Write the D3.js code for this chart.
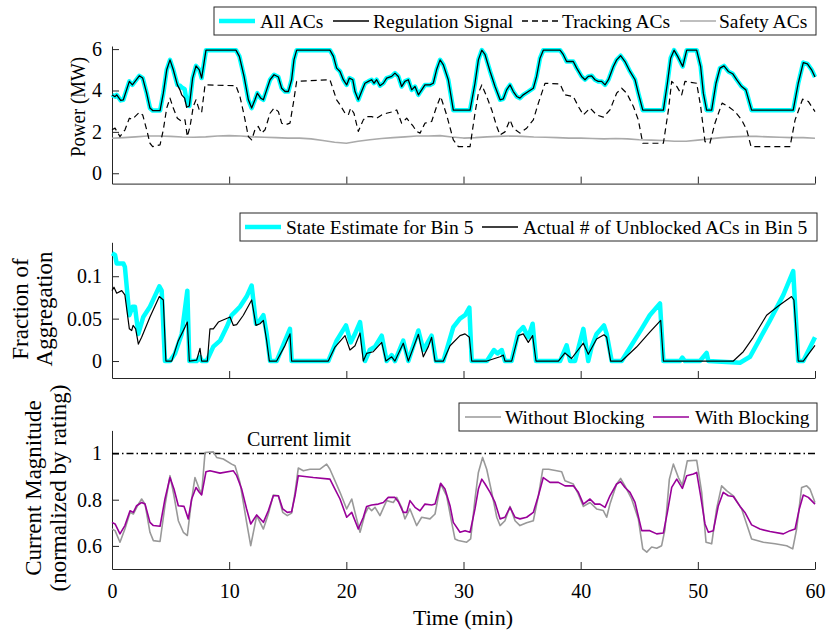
<!DOCTYPE html>
<html>
<head>
<meta charset="utf-8">
<script src="https://cdn.jsdelivr.net/npm/d3@7"></script>
<style>
  body { margin: 0; background: #fff; }
  text { font-family: "Liberation Serif", "Times New Roman", serif; fill: #000; }
  .axis path, .axis line { stroke: #262626; }
</style>
</head>
<body>
<script>
// ---- panel 1: power (MW) ----
var regT = [0, 0.26, 0.4, 0.74, 0.97, 1.48, 1.74, 1.97, 2.33, 2.62, 2.96, 3.24, 3.47, 4.1, 4.38, 4.67, 4.95, 5.23, 5.58, 5.8, 5.95, 6.2, 6.37, 6.6, 6.88, 7.17, 7.45, 7.65, 7.85, 8.02, 10.58, 10.87, 11.27, 11.64, 11.92, 12.2, 12.4, 12.69, 12.92, 13.2, 13.49, 13.83, 14.2, 14.48, 14.77, 15.05, 15.33, 15.53, 15.76, 18.6, 18.9, 19.17, 19.46, 19.74, 20.03, 20.26, 20.55, 20.74, 21.02, 21.3, 21.59, 21.88, 22.16, 22.36, 22.59, 22.87, 23.16, 23.44, 23.87, 24.15, 24.44, 24.72, 25.0, 25.29, 25.58, 25.86, 26.15, 26.43, 26.71, 27.14, 27.42, 27.7, 28.0, 28.28, 28.7, 29.0, 29.13, 30.56, 30.98, 31.27, 31.56, 31.84, 32.27, 32.69, 33.12, 33.4, 33.68, 33.97, 34.25, 34.54, 34.82, 35.1, 35.53, 35.96, 36.24, 36.53, 36.81, 38.24, 38.52, 38.8, 39.37, 39.66, 40.08, 40.37, 40.65, 40.94, 41.22, 41.5, 41.79, 42.08, 42.37, 42.79, 43.07, 43.41, 43.78, 44.21, 44.64, 44.92, 45.3, 47.06, 47.4, 47.68, 47.97, 48.28, 48.71, 49.05, 49.9, 50.24, 50.47, 50.75, 51.18, 51.55, 51.89, 52.23, 52.6, 52.97, 53.31, 53.74, 54.1, 54.59, 58.14, 58.57, 59.0, 59.35, 59.71, 60];
var regV = [3.79, 3.70, 3.79, 3.52, 3.55, 4.44, 4.27, 4.44, 4.71, 4.6, 3.87, 3.15, 3.03, 3.03, 3.87, 5.0, 5.48, 5.0, 4.27, 4.03, 3.79, 3.63, 3.19, 3.25, 4.6, 5.19, 5.0, 4.6, 5.32, 5.95, 5.95, 5.65, 4.68, 3.55, 3.15, 3.55, 3.87, 3.63, 3.55, 4.03, 4.52, 4.76, 4.65, 4.11, 3.95, 3.95, 4.52, 5.48, 5.95, 5.95, 5.65, 5.08, 4.92, 4.52, 4.27, 4.6, 4.52, 3.95, 3.55, 3.95, 4.35, 4.44, 4.52, 4.35, 4.52, 4.23, 4.35, 4.6, 4.68, 4.84, 4.68, 4.19, 4.44, 4.52, 4.03, 4.19, 3.79, 4.03, 4.27, 4.27, 4.35, 5.0, 5.48, 5.24, 4.52, 3.5, 3.05, 3.05, 4.35, 5.48, 5.95, 5.73, 4.92, 4.19, 3.55, 3.6, 4.03, 4.27, 3.95, 3.71, 3.63, 3.79, 3.95, 4.11, 4.68, 5.56, 5.95, 5.95, 5.73, 5.4, 5.4, 5.08, 4.68, 4.52, 4.68, 4.71, 4.52, 4.44, 4.44, 4.27, 4.52, 5.16, 5.48, 5.68, 5.4, 4.92, 4.52, 3.87, 3.05, 3.05, 4.35, 5.56, 5.95, 5.65, 5.16, 5.95, 5.95, 5.16, 3.87, 3.05, 3.05, 4.35, 5.08, 5.19, 4.92, 4.81, 4.52, 4.19, 4.03, 3.05, 3.05, 4.35, 5.35, 5.29, 5.0, 4.65];
var allV = [3.79, 3.70, 3.79, 3.52, 3.55, 4.44, 4.27, 4.44, 4.71, 4.6, 3.87, 3.15, 3.03, 3.03, 3.87, 5.0, 5.48, 5.0, 4.27, 4.23, 4.15, 4.06, 3.5, 3.25, 4.6, 5.19, 5.0, 4.6, 5.32, 5.95, 5.95, 5.65, 4.68, 3.55, 3.15, 3.55, 3.87, 3.63, 3.55, 4.03, 4.52, 4.76, 4.65, 4.11, 3.95, 3.95, 4.52, 5.48, 5.95, 5.95, 5.65, 5.08, 4.92, 4.52, 4.27, 4.6, 4.52, 3.95, 3.55, 3.95, 4.35, 4.44, 4.52, 4.35, 4.52, 4.23, 4.35, 4.6, 4.68, 4.84, 4.68, 4.19, 4.44, 4.52, 4.03, 4.19, 3.79, 4.03, 4.27, 4.27, 4.35, 5.0, 5.48, 5.24, 4.52, 3.5, 3.05, 3.05, 4.35, 5.48, 5.95, 5.73, 4.92, 4.19, 3.55, 3.6, 4.03, 4.27, 3.95, 3.71, 3.63, 3.79, 3.95, 4.11, 4.68, 5.56, 5.95, 5.95, 5.73, 5.4, 5.4, 5.08, 4.68, 4.52, 4.68, 4.71, 4.52, 4.44, 4.44, 4.27, 4.52, 5.16, 5.48, 5.68, 5.4, 4.92, 4.52, 3.87, 3.05, 3.05, 4.35, 5.56, 5.95, 5.65, 5.16, 5.95, 5.95, 5.16, 3.87, 3.05, 3.05, 4.35, 5.08, 5.19, 4.92, 4.81, 4.52, 4.19, 4.03, 3.05, 3.05, 4.35, 5.35, 5.29, 5.0, 4.65];
var trackT = [0, 0.26, 0.68, 1.11, 1.48, 1.74, 1.96, 2.33, 2.62, 2.96, 3.24, 3.47, 4.1, 4.38, 4.67, 4.95, 5.23, 5.58, 5.95, 6.23, 6.43, 6.66, 6.94, 7.17, 7.45, 7.65, 7.94, 10.58, 10.92, 11.27, 11.64, 11.92, 12.2, 12.49, 12.77, 13.06, 13.49, 13.83, 14.2, 14.48, 14.77, 15.19, 15.48, 15.76, 18.6, 18.89, 19.17, 19.46, 19.89, 20.17, 20.37, 20.65, 21.02, 21.45, 21.74, 22.16, 22.59, 23.02, 23.44, 24.01, 24.3, 24.72, 25.15, 25.72, 26.0, 26.29, 26.71, 27.28, 27.71, 28.05, 28.56, 29.13, 29.56, 30.56, 30.98, 31.27, 31.56, 31.98, 32.41, 32.84, 33.12, 33.54, 33.97, 34.25, 34.82, 35.39, 35.96, 36.39, 36.96, 38.24, 38.66, 39.37, 39.8, 40.23, 40.8, 41.36, 41.93, 42.5, 43.07, 43.5, 43.93, 44.5, 44.92, 45.3, 47.06, 47.49, 47.77, 48.2, 48.62, 48.9, 49.9, 50.24, 50.61, 51.03, 51.46, 52.07, 52.6, 53.17, 53.74, 54.17, 54.54, 57.87, 58.3, 58.94, 59.43, 60];
var trackV = [2.1, 2.18, 1.77, 2.1, 2.66, 2.61, 2.74, 2.94, 2.82, 2.1, 1.45, 1.29, 1.37, 2.1, 3.15, 3.63, 3.15, 2.66, 2.5, 2.58, 1.77, 2.26, 3.23, 3.55, 3.06, 2.94, 4.27, 4.23, 3.71, 2.82, 1.77, 1.61, 2.1, 2.26, 1.94, 2.1, 2.9, 3.15, 2.98, 2.42, 2.34, 2.42, 3.39, 4.44, 4.52, 4.03, 3.55, 3.31, 2.9, 2.82, 3.15, 2.9, 2.02, 2.58, 2.74, 2.74, 2.66, 2.82, 2.9, 2.98, 3.06, 2.42, 2.66, 2.26, 2.02, 1.94, 2.42, 2.5, 3.23, 3.71, 2.82, 1.61, 1.29, 1.29, 2.9, 3.87, 4.27, 3.71, 3.06, 2.26, 1.85, 2.0, 2.58, 2.18, 1.94, 2.18, 2.58, 3.39, 4.35, 4.32, 3.79, 3.71, 3.23, 2.82, 3.15, 2.82, 2.71, 3.06, 3.87, 4.11, 3.87, 3.23, 2.58, 1.45, 1.45, 3.06, 4.44, 4.2, 3.79, 4.44, 4.35, 3.23, 1.53, 1.45, 2.42, 3.39, 3.23, 2.98, 2.58, 2.1, 1.29, 1.29, 2.58, 3.58, 3.47, 2.98];
var safeT = [0, 1, 2, 3, 4, 5, 6, 7, 8, 9, 10, 11, 12, 13, 14, 15, 16, 17, 18, 19, 20, 21, 22, 23, 24, 25, 26, 27, 28, 29, 30, 31, 32, 33, 34, 35, 36, 37, 38, 39, 40, 41, 42, 43, 44, 45, 46, 47, 48, 49, 50, 51, 52, 53, 54, 55, 56, 57, 58, 59, 60];
var safeV = [1.69, 1.72, 1.76, 1.80, 1.80, 1.78, 1.75, 1.74, 1.76, 1.80, 1.82, 1.80, 1.76, 1.74, 1.72, 1.70, 1.70, 1.66, 1.58, 1.50, 1.45, 1.55, 1.62, 1.68, 1.72, 1.76, 1.80, 1.80, 1.82, 1.75, 1.70, 1.72, 1.76, 1.78, 1.80, 1.78, 1.75, 1.74, 1.72, 1.70, 1.70, 1.68, 1.66, 1.68, 1.66, 1.62, 1.60, 1.58, 1.55, 1.55, 1.60, 1.66, 1.72, 1.76, 1.78, 1.78, 1.76, 1.74, 1.72, 1.72, 1.69];

// ---- panel 2: fraction of aggregation ----
var estT = [0, 0.26, 0.4, 0.97, 1.1, 1.48, 1.76, 1.96, 2.25, 2.67, 3.24, 4.04, 4.24, 4.52, 4.95, 5.38, 5.95, 6.43, 6.6, 7.23, 7.51, 7.65, 8.08, 8.65, 9.22, 9.79, 10.21, 10.5, 10.92, 11.49, 11.92, 12.29, 12.63, 12.92, 13.2, 13.49, 14.05, 14.77, 15.19, 15.33, 18.46, 19.17, 19.97, 20.37, 20.74, 21.17, 21.59, 22.0, 22.45, 23.02, 23.44, 23.87, 24.15, 24.86, 25.29, 26.15, 26.57, 27.28, 27.65, 28.28, 29.13, 29.7, 30.13, 30.5, 30.7, 32.0, 32.6, 32.9, 33.26, 33.54, 34.11, 34.68, 35.1, 35.53, 35.9, 36.19, 38.24, 38.8, 39.1, 39.52, 40.23, 40.65, 40.94, 41.36, 41.99, 42.22, 42.65, 43.5, 45.2, 45.9, 46.77, 47.06, 48.48, 48.68, 48.9, 50.18, 50.75, 50.9, 53.6, 54.45, 56.16, 57.3, 58.14, 58.57, 59.0, 60];
var estV = [0.127, 0.125, 0.115, 0.115, 0.111, 0.054, 0.064, 0.064, 0.032, 0.052, 0.064, 0.088, 0.083, 0, 0, 0.009, 0.032, 0.083, 0, 0, 0.005, 0, 0, 0.017, 0.024, 0.040, 0.054, 0.058, 0.064, 0.076, 0.089, 0.044, 0.048, 0.054, 0.032, 0, 0, 0.024, 0.038, 0, 0, 0.024, 0.042, 0.022, 0.032, 0.046, 0, 0.013, 0.017, 0.030, 0, 0.007, 0, 0.024, 0, 0.036, 0.013, 0.030, 0, 0, 0.040, 0.050, 0.054, 0.063, 0, 0, 0.013, 0.009, 0.013, 0, 0, 0.034, 0.040, 0.028, 0.044, 0, 0, 0.0185, 0, 0, 0.038, 0, 0.017, 0.032, 0.042, 0.032, 0, 0, 0.038, 0.054, 0.068, 0, 0, 0.004, 0, 0, 0.0095, 0, -0.002, 0.005, 0.048, 0.078, 0.106, 0, 0, 0.028];
var actT = [0, 0.17, 0.4, 0.83, 1.1, 1.48, 1.68, 1.8, 2.02, 2.25, 2.53, 3.24, 4.04, 4.38, 4.6, 5.1, 5.66, 6.23, 6.43, 6.6, 7.23, 7.51, 7.65, 8.14, 8.36, 8.65, 9.08, 9.93, 10.07, 10.36, 10.64, 11.21, 11.92, 12.29, 12.63, 12.92, 13.2, 13.43, 14.05, 14.77, 15.19, 15.33, 18.46, 19.03, 19.89, 20.31, 20.74, 21.17, 21.45, 21.73, 22.3, 23.02, 23.38, 23.87, 24.15, 24.86, 25.29, 26.15, 26.57, 27.0, 27.28, 27.57, 28.28, 28.85, 29.7, 30.13, 30.5, 30.7, 32.0, 33.12, 33.4, 33.54, 34.11, 34.68, 35.1, 35.53, 35.9, 36.19, 38.1, 38.66, 39.22, 40.23, 40.65, 41.36, 41.99, 42.22, 42.56, 43.5, 44.77, 45.9, 46.83, 47.06, 53.03, 53.88, 54.73, 55.87, 56.87, 58.0, 58.2, 58.57, 59.0, 60];
var actV = [0.083, 0.087, 0.080, 0.083, 0.078, 0.038, 0.036, 0.042, 0.038, 0.020, 0.028, 0.052, 0.076, 0.072, 0, 0, 0.024, 0.040, 0.046, 0, 0.001, 0.015, 0, 0, 0.038, 0.038, 0.046, 0.051, 0.052, 0.042, 0.043, 0.054, 0.072, 0.042, 0.044, 0.048, 0.024, 0, 0, 0.0185, 0.032, 0, 0, 0.0165, 0.030, 0.013, 0.018, 0.033, 0, 0.009, 0.011, 0.022, 0, 0.005, 0, 0.021, 0, 0.0315, 0.005, 0.017, 0.028, 0, 0, 0.018, 0.030, 0.032, 0.028, 0, 0, 0.005, 0.007, 0, 0, 0.030, 0.032, 0.022, 0.030, 0, 0, 0.0095, 0.003, 0.021, 0.008, 0.026, 0.031, 0.028, 0, 0, 0.0165, 0.034, 0.048, 0, 0, 0.011, 0.028, 0.054, 0.065, 0.076, 0.072, 0, 0, 0.0185];

// ---- panel 3: current magnitude ----
var withT = [0, 0.26, 0.68, 1.1, 1.54, 1.82, 2.1, 2.53, 2.82, 3.24, 3.53, 4.1, 4.52, 4.95, 5.29, 5.66, 6.15, 6.51, 6.8, 7.17, 7.45, 7.65, 8.02, 8.36, 9.22, 10.36, 10.64, 11.07, 11.49, 11.84, 12.35, 12.92, 13.34, 13.77, 14.2, 14.57, 14.96, 15.33, 15.62, 15.9, 17.18, 18.6, 19.03, 19.46, 20.03, 20.46, 21.02, 21.45, 21.73, 22.16, 22.73, 23.16, 23.58, 24.15, 24.44, 24.86, 25.15, 25.43, 25.86, 26.29, 26.71, 27.28, 27.57, 28.05, 28.42, 28.85, 29.13, 29.7, 30.13, 30.56, 30.98, 31.27, 31.56, 31.84, 32.27, 32.69, 33.12, 33.54, 33.97, 34.4, 34.82, 35.39, 35.96, 36.39, 36.81, 37.38, 38.1, 38.66, 39.37, 39.8, 40.23, 40.8, 41.22, 41.65, 42.08, 42.5, 43.07, 43.41, 43.78, 44.21, 44.64, 45.21, 45.9, 46.49, 47.06, 47.4, 47.77, 48.2, 48.68, 49.05, 49.62, 49.9, 50.24, 50.61, 50.9, 51.32, 51.75, 52.17, 52.6, 53.03, 53.6, 54.02, 54.59, 55.3, 56.16, 57.3, 57.87, 58.3, 58.66, 59.0, 59.43, 60];
var withV = [0.702, 0.695, 0.652, 0.688, 0.752, 0.745, 0.774, 0.788, 0.781, 0.702, 0.688, 0.685, 0.803, 0.896, 0.846, 0.774, 0.771, 0.717, 0.803, 0.853, 0.832, 0.821, 0.921, 0.925, 0.915, 0.925, 0.904, 0.846, 0.760, 0.695, 0.734, 0.702, 0.752, 0.817, 0.817, 0.760, 0.745, 0.748, 0.817, 0.904, 0.896, 0.889, 0.846, 0.803, 0.724, 0.745, 0.673, 0.724, 0.771, 0.777, 0.781, 0.788, 0.810, 0.810, 0.791, 0.745, 0.745, 0.796, 0.767, 0.752, 0.781, 0.777, 0.781, 0.871, 0.846, 0.774, 0.702, 0.659, 0.666, 0.659, 0.760, 0.846, 0.889, 0.868, 0.832, 0.788, 0.717, 0.724, 0.767, 0.724, 0.717, 0.724, 0.745, 0.817, 0.896, 0.875, 0.875, 0.860, 0.860, 0.832, 0.781, 0.803, 0.781, 0.781, 0.767, 0.817, 0.868, 0.878, 0.853, 0.832, 0.788, 0.666, 0.666, 0.652, 0.656, 0.745, 0.853, 0.889, 0.849, 0.904, 0.911, 0.918, 0.817, 0.695, 0.659, 0.666, 0.774, 0.832, 0.817, 0.814, 0.771, 0.745, 0.691, 0.673, 0.662, 0.652, 0.666, 0.673, 0.760, 0.820, 0.810, 0.781];
var woT = [0, 0.26, 0.68, 1.1, 1.54, 1.82, 2.25, 2.53, 2.82, 3.24, 3.53, 4.1, 4.52, 4.95, 5.29, 5.66, 6.09, 6.43, 6.8, 7.08, 7.45, 7.65, 7.94, 8.65, 8.93, 9.5, 10.21, 10.5, 10.92, 11.49, 11.84, 12.35, 12.92, 13.34, 13.77, 14.2, 14.57, 14.96, 15.33, 15.62, 15.9, 16.33, 16.9, 17.75, 18.32, 18.6, 19.03, 19.46, 20.03, 20.46, 20.74, 21.17, 21.59, 21.88, 22.16, 22.45, 22.87, 23.44, 24.01, 24.3, 24.72, 25.0, 25.43, 26.0, 26.43, 27.14, 27.57, 28.05, 28.56, 28.99, 29.27, 29.56, 30.27, 30.61, 30.98, 31.27, 31.63, 31.98, 32.41, 32.84, 33.12, 33.54, 33.97, 34.4, 34.82, 35.39, 35.96, 36.39, 36.77, 37.26, 37.96, 38.38, 38.66, 39.37, 39.8, 40.23, 40.8, 41.36, 41.93, 42.22, 42.5, 43.07, 43.41, 43.78, 44.35, 44.92, 45.3, 45.64, 46.06, 46.49, 46.91, 47.2, 47.57, 47.91, 48.34, 48.68, 49.1, 49.9, 50.33, 50.7, 51.18, 51.6, 52.03, 52.45, 53.03, 53.74, 54.59, 55.59, 56.59, 57.58, 58.1, 58.43, 58.86, 59.29, 59.57, 60];
var woV = [0.673, 0.666, 0.616, 0.673, 0.745, 0.738, 0.781, 0.803, 0.781, 0.659, 0.623, 0.619, 0.774, 0.904, 0.817, 0.709, 0.659, 0.645, 0.803, 0.896, 0.846, 0.825, 1.004, 1.007, 0.983, 0.976, 0.954, 0.947, 0.875, 0.702, 0.601, 0.731, 0.673, 0.738, 0.820, 0.817, 0.745, 0.731, 0.742, 0.832, 0.937, 0.925, 0.932, 0.932, 0.954, 0.932, 0.882, 0.832, 0.760, 0.803, 0.745, 0.659, 0.738, 0.767, 0.753, 0.767, 0.731, 0.796, 0.788, 0.810, 0.767, 0.717, 0.760, 0.688, 0.724, 0.717, 0.738, 0.868, 0.817, 0.702, 0.630, 0.623, 0.616, 0.630, 0.803, 0.918, 0.983, 0.932, 0.832, 0.724, 0.688, 0.709, 0.771, 0.709, 0.688, 0.700, 0.709, 0.817, 0.932, 0.932, 0.925, 0.921, 0.882, 0.868, 0.824, 0.771, 0.788, 0.760, 0.753, 0.724, 0.781, 0.868, 0.892, 0.860, 0.803, 0.717, 0.587, 0.573, 0.595, 0.590, 0.601, 0.673, 0.889, 0.954, 0.896, 0.863, 0.968, 0.971, 0.832, 0.616, 0.609, 0.760, 0.860, 0.839, 0.817, 0.760, 0.630, 0.616, 0.609, 0.601, 0.587, 0.673, 0.853, 0.860, 0.846, 0.788];

var xTicks = [0, 10, 20, 30, 40, 50, 60];
var powerTicks = [0, 2, 4, 6];
var fracTicks = [0, 0.05, 0.1];
var currTicks = [0.6, 0.8, 1];
var currentLimit = 1;

var width = 828, height = 633;
var svg = d3.select('body').append('svg').attr('width', width).attr('height', height);

var x = d3.scaleLinear().domain([0, 60]).range([112, 815]);
var y1 = d3.scaleLinear().domain([-0.5, 6.15]).range([183.6, 46]);
var y2 = d3.scaleLinear().domain([-0.02, 0.14]).range([378, 242.3]);
var y3 = d3.scaleLinear().domain([0.5, 1.1]).range([569, 430.4]);

function axes(y, ticks, fmt, showX) {
  var xa = d3.axisBottom(x).tickValues(xTicks).tickSizeInner(-7).tickSizeOuter(0).tickPadding(15);
  if (!showX) xa.tickFormat('');
  var gx = svg.append('g').attr('class', 'axis').attr('transform', 'translate(0,' + y.range()[0] + ')').call(xa);
  var gy = svg.append('g').attr('class', 'axis').attr('transform', 'translate(' + x.range()[0] + ',0)')
    .call(d3.axisLeft(y).tickValues(ticks).tickFormat(fmt).tickSizeInner(-7).tickSizeOuter(0).tickPadding(10));
  [gx, gy].forEach(function (g) {
    g.selectAll('text').style('font-size', '20px').style('font-family', '"Liberation Serif", serif').attr('fill', '#000');
    g.select('.domain').attr('stroke-width', 1);
  });
}

function line(y) {
  return d3.line().x(function (d) { return x(d[0]); }).y(function (d) { return y(d[1]); });
}
function pairs(t, v) { return t.map(function (d, i) { return [d, v[i]]; }); }

function drawSeries(t, v, y, color, w, dash) {
  svg.append('path').datum(pairs(t, v))
    .attr('d', line(y)).attr('fill', 'none').attr('stroke', color).attr('stroke-width', w)
    .attr('stroke-linejoin', 'round').attr('stroke-dasharray', dash || null);
}

function legend(x0, y0, x1, y1b, items) {
  svg.append('rect').attr('x', x0).attr('y', y0).attr('width', x1 - x0).attr('height', y1b - y0)
    .attr('fill', '#fff').attr('stroke', '#262626').attr('stroke-width', 1);
  items.forEach(function (it) {
    svg.append('line').attr('x1', it.lx).attr('x2', it.lx + 36).attr('y1', y0 + 14).attr('y2', y0 + 14)
      .attr('stroke', it.color).attr('stroke-width', it.w).attr('stroke-dasharray', it.dash || null);
    svg.append('text').attr('x', it.tx).attr('y', y0 + 21).style('font-size', '19.5px').text(it.label);
  });
}

function ylabel(xb, yc, size, lines, gap) {
  var t = svg.append('text').attr('transform', 'translate(' + xb + ',' + yc + ') rotate(-90)')
    .attr('text-anchor', 'middle').style('font-size', size + 'px');
  lines.forEach(function (s, i) {
    t.append('tspan').attr('x', 0).attr('dy', i === 0 ? 0 : gap).text(s);
  });
}

// panel 1
axes(y1, powerTicks, d3.format('d'), false);
drawSeries(safeT, safeV, y1, '#aaaaaa', 1.6);
drawSeries(trackT, trackV, y1, '#000', 1.2, '6,4');
drawSeries(regT, allV, y1, '#00ffff', 4.5);
drawSeries(regT, regV, y1, '#000', 1.3);
legend(214, 7, 816, 35, [
  {lx: 219, tx: 260, color: '#00ffff', w: 4.5, label: 'All ACs'},
  {lx: 333, tx: 373, color: '#000', w: 1.3, label: 'Regulation Signal'},
  {lx: 522, tx: 562, color: '#000', w: 1.3, dash: '6,4', label: 'Tracking ACs'},
  {lx: 680, tx: 719, color: '#aaaaaa', w: 1.6, label: 'Safety ACs'}
]);
svg.append('text').attr('transform', 'translate(85,107) rotate(-90)')
  .attr('x', -50).attr('textLength', 100).attr('lengthAdjust', 'spacingAndGlyphs')
  .style('font-size', '22px').text('Power (MW)');

// panel 2
axes(y2, fracTicks, function (d) { return d === 0 ? '0' : String(d); }, false);
drawSeries(estT, estV, y2, '#00ffff', 4.5);
drawSeries(actT, actV, y2, '#000', 1.2);
legend(240, 213, 817, 241, [
  {lx: 245, tx: 286, color: '#00ffff', w: 4.5, label: 'State Estimate for Bin 5'},
  {lx: 482, tx: 523, color: '#000', w: 1.3, label: 'Actual # of Unblocked ACs in Bin 5'}
]);
ylabel(28, 309, 23, ['Fraction of', 'Aggregation'], 24);

// panel 3
axes(y3, currTicks, function (d) { return String(d); }, true);
svg.append('line').attr('x1', x(0)).attr('x2', x(60)).attr('y1', y3(currentLimit)).attr('y2', y3(currentLimit))
  .attr('stroke', '#000').attr('stroke-width', 1.3).attr('stroke-dasharray', '7,3,1.5,3');
drawSeries(woT, woV, y3, '#999999', 1.6);
drawSeries(withT, withV, y3, '#990099', 1.6);
svg.append('text').attr('x', 299).attr('y', 446).attr('text-anchor', 'middle').style('font-size', '20px').text('Current limit');
legend(459, 403, 817, 431, [
  {lx: 465, tx: 505, color: '#999999', w: 1.6, label: 'Without Blocking'},
  {lx: 653, tx: 695, color: '#990099', w: 1.6, label: 'With Blocking'}
]);
ylabel(41, 488, 23, ['Current Magnitude', '(normalized by rating)'], 25);

svg.append('text').attr('x', 463).attr('y', 625).attr('text-anchor', 'middle').style('font-size', '22px').text('Time (min)');
</script>
</body>
</html>
